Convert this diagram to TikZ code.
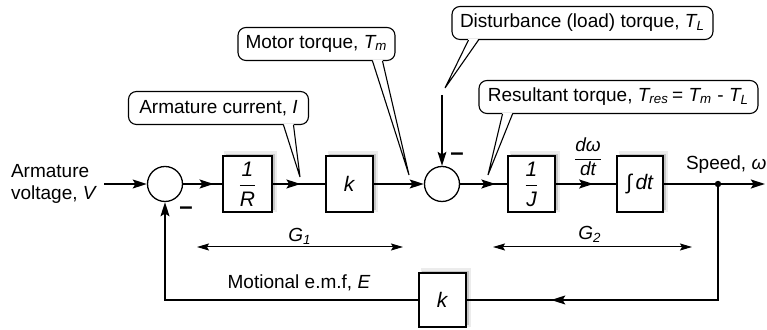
\documentclass[tikz,border=0pt]{standalone}
\usepackage{fontspec}
\setmainfont{Liberation Sans}
\usepackage{amsmath}
\usetikzlibrary{arrows.meta,calc,shadows,decorations.markings}

\tikzset{
  sig/.style={line width=1.2pt},
  arr/.style={-{Stealth[length=7pt,width=4.4pt,inset=1.3pt]}},
  marr/.style={postaction=decorate,
    decoration={markings, mark=at position #1 with {\arrow{Stealth[length=7pt,width=4.4pt,inset=1.3pt]}}}},
  blk/.style={draw, fill=white, line width=0.65pt, minimum height=28pt, minimum width=23.5pt, inner sep=0pt,
    font=\fontsize{10.5}{12}\selectfont,
    drop shadow={shadow xshift=1.6pt, shadow yshift=1.2pt, shadow scale=1.08, opacity=.15},
    drop shadow={shadow xshift=1.4pt, shadow yshift=1pt, opacity=.35}},
  sumc/.style={draw, circle, fill=white, line width=0.65pt, minimum size=17.5pt, inner sep=0pt},
  callbox/.style={draw, rounded corners=4pt, fill=white, line width=0.55pt, minimum height=16.5pt, inner xsep=3pt},
  span/.style={line width=0.5pt, {Stealth[length=6pt,width=3.5pt,inset=1pt]}-{Stealth[length=6pt,width=3.5pt,inset=1pt]}},
  minus/.style={font=\fontsize{12}{12}\selectfont\bfseries, inner sep=0pt},
}

% pointer of a callout: node, offset of its base from the node's south, tip
\newcommand\callptr[3]{%
  \fill[white] ($(#1.south)+(#2,-1.5)$) -- (#3) -- ($(#1.south)+(#2+10,-1.5)$) -- cycle;
  \draw[line width=.55pt] ($(#1.south)+(#2,0)$) -- (#3) -- ($(#1.south)+(#2+10,0)$);}

\begin{document}
\begin{tikzpicture}[x=0.5pt, y=-0.5pt, font=\fontsize{9.5}{11}\selectfont]
    \useasboundingbox (0,0) rectangle (767,330);

    % forward path
    \node[align=left, anchor=west] (vin) at (4,184) {Armature\\voltage, \textit{V}};
    \node[sumc] (s1) at (165,184) {};
    \node[blk, minimum width=24.5pt] (gr) at (247.5,184) {$\dfrac{\textit{1}}{\textit{R}}$};
    \node[blk] (gk) at (349.5,184) {\textit{k}};
    \node[sumc] (s2) at (442,184) {};
    \node[blk] (gj) at (531.5,184) {$\dfrac{\textit{1}}{\textit{J}}$};
    \node[blk, minimum width=23pt] (gi) at (640,184) {∫\,\textit{dt}};
    \coordinate (jn) at (718,184);
    \coordinate (out) at (765,184);
    \node[blk, minimum height=27pt] (fk) at (442.5,300) {\textit{k}};

    \draw[sig, arr] (vin.east) -- (s1);
    \draw[sig, marr=0.78] (s1) -- (gr);
    \draw[sig, marr=0.53] (gr) -- (gk);
    \draw[sig, arr] (gk) -- (s2);
    \draw[sig, marr=0.75] (s2) -- (gj);
    \draw[sig, marr=0.62] (gj) -- (gi);
    \draw[sig, arr] (gi) -- (out);
    \fill (jn) circle (1.6pt);

    % feedback
    \draw[sig, marr=0.77] (jn) |- (fk);
    \draw[sig, arr] (fk) -| (s1);

    % load torque input
    \coordinate (dtop) at (442,95);
    \draw[line width=0.7pt, arr] (dtop) -- (s2);

    \node[minus] (m1) at (186,211) {–};
    \node[minus] (m2) at (457,157) {–};

    % labels
    \node (dw) at (588,157) {$\dfrac{\textit{dω}}{\textit{dt}}$};
    \node[anchor=west] (spd) at (679,165) {Speed, \textit{ω}};
    \node (emf) at (299,283) {Motional e.m.f, \textit{E}};

    \coordinate (g1a) at (197,247);
    \coordinate (g1b) at (403,247);
    \draw[span] (g1a) -- (g1b);
    \node (g1) at (300,236) {\textit{G\textsubscript{1}}};
    \coordinate (g2a) at (493,247);
    \coordinate (g2b) at (692,247);
    \draw[span] (g2a) -- (g2b);
    \node (g2) at (590,234) {\textit{G\textsubscript{2}}};

    % callouts
    \node[callbox, minimum width=90pt] (cur) at (218.5,108) {Armature current, \textit{I}};
    \node[callbox, minimum width=78.5pt] (mot) at (316.5,44) {Motor torque, \textit{T\textsubscript{m}}};
    \node[callbox, minimum width=130.5pt] (dis) at (582.5,23) {Disturbance (load) torque, \textit{T\textsubscript{L}}};
    \node[callbox, minimum width=139.5pt] (res) at (618.5,97) {Resultant torque, \textit{T\textsubscript{res}}\,= \textit{T\textsubscript{m}} - \textit{T\textsubscript{L}}};
    \coordinate (curtip) at (300,177);
    \coordinate (mottip) at (409,175);
    \coordinate (distip) at (445,88);
    \coordinate (restip) at (488,175);
    \callptr{cur}{65}{curtip}
    \callptr{mot}{56}{mottip}
    \callptr{dis}{-114}{distip}
    \callptr{res}{-116}{restip}
\end{tikzpicture}
\end{document}
